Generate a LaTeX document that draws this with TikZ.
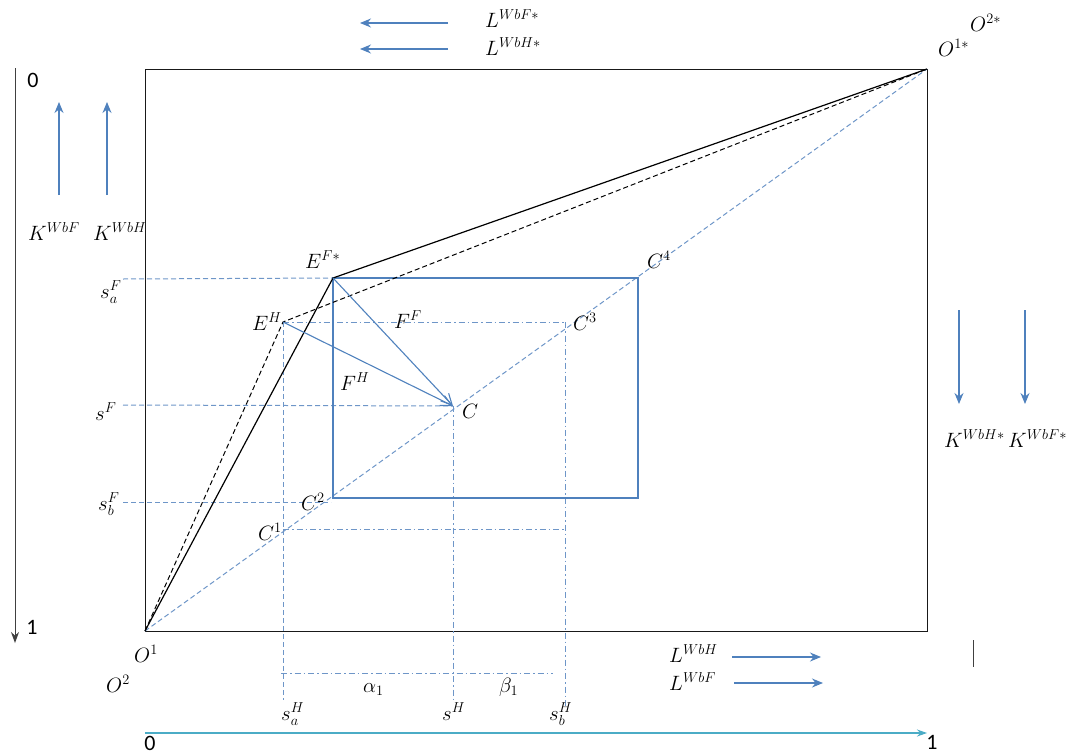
\documentclass[tikz,border=0pt]{standalone}
\usepackage{fontspec}
\newfontfamily\digitfont{Carlito}
\usetikzlibrary{arrows.meta}
\definecolor{blueA}{RGB}{79,129,189}
\definecolor{blueD}{RGB}{110,150,200}
\definecolor{tealA}{RGB}{75,172,198}
\begin{document}
\begin{tikzpicture}[x=1pt,y=-1pt,
  lbl/.style={anchor=base west,inner sep=0pt,font=\fontsize{21}{25}\selectfont},
  dig/.style={anchor=center,inner sep=0pt,font=\digitfont\fontsize{22}{25}\selectfont},
  frame/.style={black!90,line width=0.9pt},
  bluearrow/.style={blueA,line width=1.1pt,-{Stealth[length=11pt,width=9pt]}},
  vecarrow/.style={blueA,line width=1.1pt,-{Straight Barb[length=11pt,width=11pt]}},
  bluedash/.style={blueD,line width=1pt,dash pattern=on 5pt off 3pt},
  bluedashdot/.style={blueD,line width=1pt,dash pattern=on 6pt off 3pt on 1.5pt off 3pt},
  blackdash/.style={black,line width=1pt,dash pattern=on 5pt off 3pt},
  blackline/.style={black,line width=1.2pt}
]
\useasboundingbox (0,0) rectangle (1074,755);

% key points
\coordinate (O1) at (145,631);
\coordinate (O1s) at (927,69);
\coordinate (EF) at (333,278);
\coordinate (EH) at (283,322);
\coordinate (C) at (453,406);
\coordinate (C1) at (283,529);
\coordinate (C2) at (333,498);
\coordinate (C3) at (565,322);
\coordinate (C4) at (638,278);

% helper coordinates
\coordinate (saF0) at (123,279);
\coordinate (sF0) at (123,405);
\coordinate (sbF0) at (123,502);
\coordinate (sbF1) at (331,502);
\coordinate (C1e) at (565,529);
\coordinate (al0) at (281,673);
\coordinate (al1) at (553,673);
\coordinate (vA) at (283,700);
\coordinate (vS) at (453,700);
\coordinate (vB) at (565,708);

% frame
\draw[frame] (145,69) rectangle (927,631);

% left axis
\coordinate (ax0) at (15,68);
\coordinate (ax1) at (15,643);
\draw[black!75,line width=1pt,-{Stealth[length=11pt,width=8pt]}] (ax0) -- (ax1);

% blue direction arrows
\coordinate (kf0) at (59,195); \coordinate (kf1) at (59,102);
\coordinate (kh0) at (107,195); \coordinate (kh1) at (107,102);
\draw[bluearrow] (kf0) -- (kf1);
\draw[bluearrow] (kh0) -- (kh1);
\coordinate (lf0) at (448,23); \coordinate (lf1) at (360,23);
\coordinate (lh0) at (448,49); \coordinate (lh1) at (360,49);
\draw[bluearrow] (lf0) -- (lf1);
\draw[bluearrow] (lh0) -- (lh1);
\coordinate (khs0) at (959,310); \coordinate (khs1) at (959,404);
\coordinate (kfs0) at (1025,310); \coordinate (kfs1) at (1025,404);
\draw[bluearrow] (khs0) -- (khs1);
\draw[bluearrow] (kfs0) -- (kfs1);
\coordinate (lbh0) at (732,657); \coordinate (lbh1) at (821,657);
\coordinate (lbf0) at (734,683); \coordinate (lbf1) at (823,683);
\draw[bluearrow] (lbh0) -- (lbh1);
\draw[bluearrow] (lbf0) -- (lbf1);

% bottom axis
\coordinate (bx0) at (145,733);
\coordinate (bx1) at (927,733);
\draw[tealA,line width=1.1pt,-{Stealth[length=10pt,width=7pt]}] (bx0) -- (bx1);

% small bar
\coordinate (bar0) at (973,640);
\coordinate (bar1) at (973,667);
\draw[black!75,line width=1pt] (bar0) -- (bar1);

% dashed guides
\draw[bluedash] (O1) -- (O1s);
\draw[bluedash] (saF0) -- (EF);
\draw[bluedash] (sF0) -- (C);
\draw[bluedash] (sbF0) -- (sbF1);
\draw[bluedashdot] (EH) -- (C3);
\draw[bluedashdot] (C1) -- (C1e);
\draw[bluedashdot] (al0) -- (al1);
\draw[bluedash] (EH) -- (vA);
\draw[bluedashdot] (C) -- (vS);
\draw[bluedashdot] (C3) -- (vB);

% blue rectangle
\draw[blueA,line width=1.1pt] (EF) rectangle (C4 |- C2);

% black contract curves
\draw[blackline] (O1) -- (EF) -- (O1s);
\draw[blackdash] (O1) -- (EH) -- (O1s);

% vectors
\draw[vecarrow] (EF) -- (C);
\draw[vecarrow] (EH) -- (C);

% labels
\node[dig] (d0) at (33,80) {0};
\node[dig] (d1) at (32,627) {1};
\node[dig] (b0) at (150,743) {0};
\node[dig] (b1) at (932,742) {1};

\node[lbl] (lKF) at (28,240) {$K^{WbF}$};
\node[lbl] (lKH) at (93,240) {$K^{WbH}$};
\node[lbl] (lLFs) at (485,27) {$L^{WbF*}$};
\node[lbl] (lLHs) at (485,55) {$L^{WbH*}$};
\node[lbl] (lO2s) at (970,31) {$O^{2*}$};
\node[lbl] (lO1s) at (938,56) {$O^{1*}$};
\node[lbl] (lKHs) at (944,447) {$K^{WbH*}$};
\node[lbl] (lKFs) at (1008,447) {$K^{WbF*}$};

\node[lbl] (lEF) at (305,268) {$E^{F*}$};
\node[lbl] (lEH) at (252,330) {$E^{H}$};
\node[lbl] (lFF) at (394,328) {$F^{F}$};
\node[lbl] (lFH) at (340,390) {$F^{H}$};
\node[lbl] (lC) at (462,418) {$C$};
\node[lbl] (lC3) at (573,330) {$C^{3}$};
\node[lbl] (lC4) at (647,268) {$C^{4}$};
\node[lbl] (lC2) at (301,510) {$C^{2}$};
\node[lbl] (lC1) at (258,540) {$C^{1}$};

\node[lbl] (lsaF) at (100,298) {$s_a^F$};
\node[lbl] (lsF) at (95,420) {$s^F$};
\node[lbl] (lsbF) at (98,510) {$s_b^F$};

\node[lbl] (lO1) at (134,662) {$O^{1}$};
\node[lbl] (lO2) at (106,692) {$O^{2}$};
\node[lbl] (lal) at (363,692) {$\alpha_1$};
\node[lbl] (lbe) at (499,692) {$\beta_1$};
\node[lbl] (lsaH) at (281,720) {$s_a^H$};
\node[lbl] (lsH) at (442,720) {$s^H$};
\node[lbl] (lsbH) at (549,720) {$s_b^H$};
\node[lbl] (lLH) at (669,662) {$L^{WbH}$};
\node[lbl] (lLF) at (669,690) {$L^{WbF}$};
\end{tikzpicture}
\end{document}
